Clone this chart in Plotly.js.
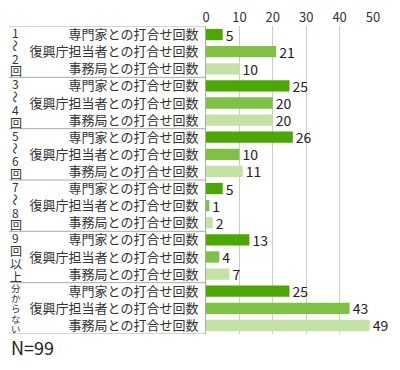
<!DOCTYPE html>
<html>
<head>
<meta charset="utf-8">
<script src="https://cdn.plot.ly/plotly-3.0.1.min.js"></script>
<style>
html,body{margin:0;padding:0;background:#fff;}
#chart{width:400px;height:370px;}
</style>
</head>
<body>
<div id="chart"></div>
<script>
// ---- data ----
const groups = ['1〜2回', '3〜4回', '5〜6回', '7〜8回', '9回以上', '分からない'];
const seriesNames = ['専門家との打合せ回数', '復興庁担当者との打合せ回数', '事務局との打合せ回数'];
const expert = [5, 25, 26, 5, 13, 25];
const agency = [21, 20, 10, 1, 4, 43];
const office = [10, 20, 11, 2, 7, 49];
const xTicks = [0, 10, 20, 30, 40, 50];
const note = 'N=99';

// ---- styling ----
const colors = ['#4aa800', '#7dc242', '#c3e3a4'];
const FONT = '"Noto Sans CJK JP", "Noto Sans", sans-serif';
const W = 400, H = 370;
const margin = {l: 206, r: 27, t: 26, b: 36};
const plotW = W - margin.l - margin.r;
const xp = px => (px - margin.l) / plotW;

const seriesData = [expert, agency, office];
const nS = seriesNames.length;

const traces = seriesData.map((vals, s) => ({
  type: 'bar',
  orientation: 'h',
  name: seriesNames[s],
  x: vals,
  y: vals.map((v, g) => g * nS + s),
  width: 0.66,
  marker: {color: colors[s]},
  text: vals.map(String),
  textposition: 'outside',
  constraintext: 'none',
  cliponaxis: false,
  textfont: {family: FONT, size: 14, color: '#222'},
  hoverinfo: 'x+name'
}));

const tickvals = [], ticktext = [];
groups.forEach((g, gi) => seriesNames.forEach((n, s) => {
  tickvals.push(gi * nS + s);
  ticktext.push(n);
}));

const shapes = [];
for (let g = 0; g <= groups.length; g++) {
  shapes.push({
    type: 'line', xref: 'paper', yref: 'y',
    x0: xp(9), x1: 0, y0: g * nS - 0.5, y1: g * nS - 0.5,
    line: {color: '#aaaaaa', width: 1}
  });
}

const annotations = [];
groups.forEach((g, gi) => {
  const chars = Array.from(g);
  const n = chars.length;
  const fs = n > 4 ? 9.5 : 12;
  chars.forEach((c, i) => {
    annotations.push({
      xref: 'paper', yref: 'y',
      x: xp(15.5), y: gi * nS - 0.5 + (i + 0.5) * nS / n,
      text: c, showarrow: false,
      xanchor: 'center', yanchor: 'middle',
      borderpad: 0,
      textangle: c === '〜' ? 90 : 0,
      font: {family: FONT, size: fs, color: '#333'}
    });
  });
});
annotations.push({
  xref: 'paper', yref: 'paper',
  x: xp(9), y: -(347 - (H - margin.b)) / (H - margin.t - margin.b),
  xanchor: 'left', yanchor: 'middle',
  text: note, showarrow: false,
  font: {family: FONT, size: 18, color: '#222'}
});

const layout = {
  width: W, height: H,
  margin: margin,
  paper_bgcolor: '#fff', plot_bgcolor: '#fff',
  showlegend: false,
  barmode: 'overlay',
  font: {family: FONT, color: '#333'},
  xaxis: {
    side: 'top',
    range: [0, 50],
    tickvals: xTicks,
    showgrid: true, gridcolor: '#cccccc', gridwidth: 1,
    zeroline: false, showline: false,
    ticks: '',
    tickfont: {family: FONT, size: 13, color: '#333'},
    fixedrange: true
  },
  yaxis: {
    range: [groups.length * nS - 0.5, -0.5],
    tickvals: tickvals, ticktext: ticktext,
    showgrid: false, zeroline: false,
    showline: true, linecolor: '#aaaaaa', linewidth: 1,
    ticks: '', ticklabelstandoff: 4,
    tickfont: {family: FONT, size: 13, color: '#333'},
    fixedrange: true
  },
  shapes: shapes,
  annotations: annotations
};

Plotly.newPlot('chart', traces, layout, {displayModeBar: false, staticPlot: true});
</script>
</body>
</html>
